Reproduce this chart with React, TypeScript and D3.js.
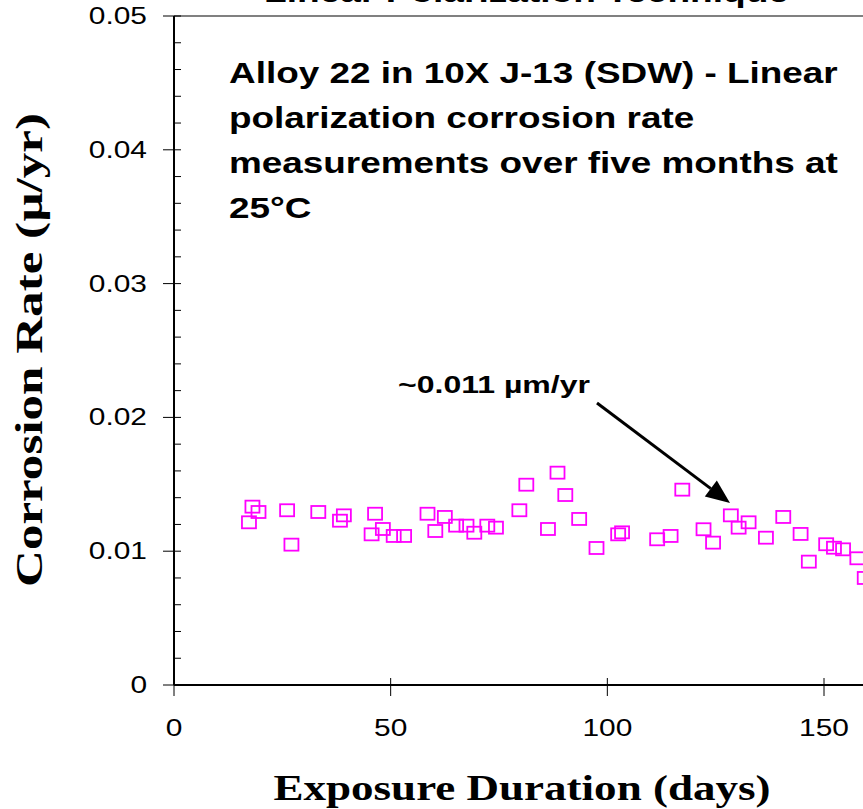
import React from 'react';
import * as d3 from 'd3';

// ---- data ----
const days = [17.3, 18.1, 19.5, 26.1, 27.1, 33.3, 38.3, 39.2, 45.6, 46.4, 48.2, 50.7, 53.1, 58.5, 60.3, 62.5, 65.1, 67.5, 69.3, 72.3, 74.3, 79.7, 81.3, 86.3, 88.5, 90.3, 93.5, 97.5, 102.5, 103.4, 111.5, 114.6, 117.3, 122.2, 124.4, 128.5, 130.3, 132.6, 136.6, 140.6, 144.6, 146.5, 150.5, 152.3, 154.4, 157.7, 159.4];
const rates = [0.01216, 0.01333, 0.01293, 0.01306, 0.01049, 0.01293, 0.01228, 0.01268, 0.01126, 0.0128, 0.01166, 0.01114, 0.01114, 0.0128, 0.01151, 0.01256, 0.01191, 0.01191, 0.01138, 0.01191, 0.01176, 0.01306, 0.01497, 0.01166, 0.01587, 0.0142, 0.01241, 0.01024, 0.01126, 0.01141, 0.01089, 0.01114, 0.0146, 0.01164, 0.01064, 0.01268, 0.01176, 0.01216, 0.01101, 0.01256, 0.01129, 0.00922, 0.01052, 0.01026, 0.01014, 0.00947, 0.008];
const xTicks = [0, 50, 100, 150];
const yTicks = [0, 0.01, 0.02, 0.03, 0.04, 0.05];
const yTickLabels = ['0', '0.01', '0.02', '0.03', '0.04', '0.05'];
const annotationLines = [
  'Alloy 22 in 10X J-13 (SDW) - Linear',
  'polarization corrosion rate',
  'measurements over five months at',
  '25°C',
];
const topTitle = 'Linear Polarization Technique';
const arrowLabel = '~0.011 µm/yr';
const xTitle = 'Exposure Duration (days)';
const yTitle = 'Corrosion Rate (µ/yr)';

const W = 863;
const H = 809;

export default function App() {
  const x = d3.scaleLinear().domain([0, 150]).range([174, 824]);
  const y = d3.scaleLinear().domain([0, 0.05]).range([685, 16]);
  const minor = d3.range(0, 51, 2).map((v) => v / 1000).filter((v) => Math.round(v * 1000) % 10 !== 0);
  const pts = days.map((d, i) => ({ d, r: rates[i] }));
  const sans = 'Arial, "Liberation Sans", sans-serif';
  const serif = '"Times New Roman", "Liberation Serif", serif';
  const ax0 = x(0);
  const ay0 = y(0);

  // arrow
  const a1 = { x: 597, y: 403 };
  const a2 = { x: 730, y: 503 };
  const ang = Math.atan2(a2.y - a1.y, a2.x - a1.x);
  const hl = 24, hw = 10;
  const bx = a2.x - hl * Math.cos(ang), by = a2.y - hl * Math.sin(ang);
  const head = [
    [a2.x, a2.y],
    [bx + hw * Math.sin(ang), by - hw * Math.cos(ang)],
    [bx - hw * Math.sin(ang), by + hw * Math.cos(ang)],
  ];

  return (
    <svg width={W} height={H} style={{ position: 'absolute', left: 0, top: 0, background: '#fff' }}>
      <rect x={0} y={0} width={W} height={H} fill="#fff" />
      {/* cut-off top title */}
      <text x={264} y={2} fontFamily={sans} fontWeight="bold" fontSize={30} textLength={525} lengthAdjust="spacingAndGlyphs" fill="#000">{topTitle}</text>
      {/* top border */}
      <line x1={ax0} x2={W} y1={y(0.05)} y2={y(0.05)} stroke="#808080" strokeWidth={2} />
      {/* axes */}
      <line x1={ax0} x2={ax0} y1={y(0.05)} y2={ay0} stroke="#000" strokeWidth={2} />
      <line x1={ax0} x2={W} y1={ay0} y2={ay0} stroke="#000" strokeWidth={2} />
      {yTicks.map((t) => (
        <line key={'yt' + t} x1={ax0 - 11} x2={ax0 + 7} y1={y(t)} y2={y(t)} stroke="#000" strokeWidth={1} />
      ))}
      {minor.map((t) => (
        <line key={'ym' + t} x1={ax0} x2={ax0 + 7} y1={y(t)} y2={y(t)} stroke="#000" strokeWidth={1} />
      ))}
      {xTicks.map((t) => (
        <line key={'xt' + t} x1={x(t)} x2={x(t)} y1={ay0 - 7} y2={ay0 + 11} stroke="#000" strokeWidth={1} />
      ))}
      {yTicks.map((t, i) => (
        <text key={'yl' + t} transform={`translate(147,${y(t) + 8}) scale(1.3,1)`} textAnchor="end" fontFamily={sans} fontSize={23} fill="#000">{yTickLabels[i]}</text>
      ))}
      {xTicks.map((t) => (
        <text key={'xl' + t} transform={`translate(${x(t)},${736}) scale(1.3,1)`} textAnchor="middle" fontFamily={sans} fontSize={23} fill="#000">{String(t)}</text>
      ))}
      {/* axis titles */}
      <text x={522} y={800} textAnchor="middle" fontFamily={serif} fontWeight="bold" fontSize={36} textLength={497} lengthAdjust="spacingAndGlyphs" fill="#000">{xTitle}</text>
      <text transform={`translate(42,350) rotate(-90)`} textAnchor="middle" fontFamily={serif} fontWeight="bold" fontSize={38} textLength={474} lengthAdjust="spacingAndGlyphs" fill="#000">{yTitle}</text>
      {/* annotation */}
      {annotationLines.map((l, i) => (
        <text key={'an' + i} transform={`translate(229,${83 + i * 45}) scale(1.23,1)`} fontFamily={sans} fontWeight="bold" fontSize={30} fill="#000">{l}</text>
      ))}
      <text x={398} y={393} fontFamily={sans} fontWeight="bold" fontSize={23} textLength={192} lengthAdjust="spacingAndGlyphs" fill="#000">{arrowLabel}</text>
      <line x1={a1.x} y1={a1.y} x2={bx} y2={by} stroke="#000" strokeWidth={3} />
      <polygon points={head.map((p) => p.join(',')).join(' ')} fill="#000" />
      {/* data */}
      {pts.map((p, i) => (
        <rect key={'p' + i} x={x(p.d) - 7} y={y(p.r) - 6} width={14} height={12} fill="none" stroke="#FF00FF" strokeWidth={1.8} />
      ))}
    </svg>
  );
}
